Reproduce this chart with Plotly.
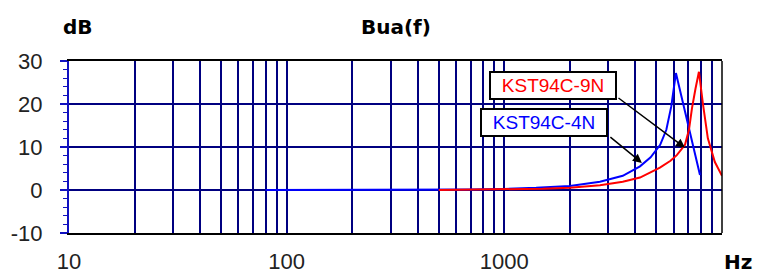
import numpy as np
import plotly.graph_objects as go

# ---- data ----
freq_4n = [80, 200, 400, 700, 1000, 1400, 2000, 2750, 3500, 4200, 4700, 5200, 5550, 5850, 6142, 6550, 6966, 7420, 7923]
db_4n = [0, 0, 0.05, 0.1, 0.25, 0.5, 0.95, 1.9, 3.3, 5.5, 7.6, 10.5, 14, 19.5, 27.2, 21.3, 15.4, 9.5, 3.5]

freq_9n = [500, 1000, 1500, 2000, 2750, 3500, 4200, 5186, 5800, 6200, 6760, 7050, 7278, 7550, 7835, 8176, 8610, 9273, 10000]
db_9n = [0, 0.1, 0.3, 0.55, 1.1, 1.9, 2.9, 5.2, 6.8, 8.1, 10.5, 14, 19, 23.5, 27.5, 20, 12, 6.5, 3.3]

series_names = ["KST94C-4N", "KST94C-9N"]
series_colors = ["#0000FF", "#FF0000"]

x_grid_vals = [m * 10 ** e for e in range(1, 4) for m in range(1, 10)] + [10000]
x_tick_text = [str(v) if v in (10, 100, 1000) else "" for v in x_grid_vals]
y_tick_vals = [-10, 0, 10, 20, 30]
y_tick_text = ["-10", "0", "10", "20", "30"]

# arrow targets (points on the curves)
arrow_targets = {"KST94C-9N": (6760, 9.8), "KST94C-4N": (4285, 6.3)}

GRID = "#000080"
AX_BLUE = "#1010c0"

fig = go.Figure()
fig.add_trace(go.Scatter(x=freq_4n, y=db_4n, mode="lines", name=series_names[0],
                         line=dict(color=series_colors[0], width=2)))
fig.add_trace(go.Scatter(x=freq_9n, y=db_9n, mode="lines", name=series_names[1],
                         line=dict(color=series_colors[1], width=2)))

tick_font = dict(family="Liberation Sans, Arial, sans-serif", size=22, color="#222222")

# page body has an 8px margin, so the figure is sized to fit the window
fig.update_layout(
    width=757, height=265,
    margin=dict(l=61, r=43, t=53, b=40),
    paper_bgcolor="white", plot_bgcolor="white",
    showlegend=False,
    xaxis=dict(
        type="log", range=[1, 4], automargin=False,
        tickmode="array", tickvals=x_grid_vals, ticktext=x_tick_text,
        showgrid=True, gridcolor=GRID, gridwidth=1.6,
        ticks="", tickfont=tick_font, ticklabelstandoff=8,
        showline=True, linecolor="black", linewidth=2, mirror=True,
        zeroline=False,
    ),
    yaxis=dict(
        range=[-10, 30], automargin=False,
        tickmode="array", tickvals=y_tick_vals, ticktext=y_tick_text,
        showgrid=True, gridcolor=GRID, gridwidth=1.6,
        ticks="outside", ticklen=7, tickcolor=AX_BLUE, tickwidth=1.5,
        minor=dict(dtick=2, ticks="outside", ticklen=4, tickcolor=AX_BLUE, tickwidth=1.2, showgrid=False),
        tickfont=tick_font, ticklabelstandoff=13,
        showline=True, linecolor=AX_BLUE, linewidth=2, mirror=False,
        zeroline=False,
    ),
)

# right border
fig.add_shape(type="line", xref="paper", yref="paper", x0=1, x1=1, y0=0, y1=1,
              line=dict(color="black", width=1.5))

title_font = dict(family="DejaVu Sans, sans-serif", size=20, color="black")
fig.add_annotation(text="<b>dB</b>", xref="paper", yref="paper", x=-0.012, y=1.2,
                   xanchor="left", yanchor="middle", showarrow=False, font=title_font)
fig.add_annotation(text="<b>Bua(f)</b>", xref="paper", yref="paper", x=0.5, y=1.2,
                   xanchor="center", yanchor="middle", showarrow=False, font=title_font)
fig.add_annotation(text="<b>Hz</b>", xref="paper", yref="paper", x=1.049, y=-0.169,
                   xanchor="right", yanchor="middle", showarrow=False, font=title_font)

# arrows
arrow_offsets = {"KST94C-9N": (-68, -51), "KST94C-4N": (-33, -27)}
for name in series_names:
    fx, fy = arrow_targets[name]
    ax, ay = arrow_offsets[name]
    fig.add_annotation(x=np.log10(fx), y=fy, xref="x", yref="y", text="",
                       showarrow=True, arrowhead=2, arrowsize=1.2, arrowwidth=1.5,
                       arrowcolor="black", ax=ax, ay=ay)

# label boxes
label_pos = {"KST94C-9N": (0.741, 0.860), "KST94C-4N": (0.728, 0.642)}
for name, color in zip(series_names, series_colors):
    px, py = label_pos[name]
    fig.add_annotation(text=name, xref="paper", yref="paper", x=px, y=py,
                       xanchor="center", yanchor="middle", showarrow=False,
                       font=dict(family="Liberation Sans, Arial, sans-serif", size=19, color=color),
                       bgcolor="white", bordercolor="black", borderwidth=2, borderpad=2,
                       width=120, height=21)

fig.write_html("out.html")
